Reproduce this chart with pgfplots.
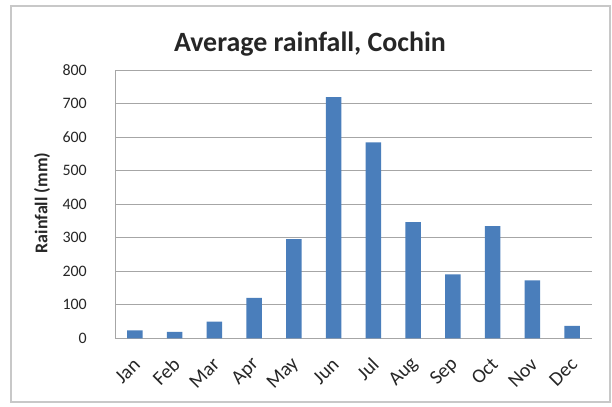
\documentclass[border=0pt]{standalone}
\usepackage{pgfplots}
\pgfplotsset{compat=1.18}
\usepackage{fontspec}
\setmainfont{Carlito}

\definecolor{barblue}{HTML}{4A7EBB}
\definecolor{gridgray}{HTML}{A6A6A6}
\definecolor{framegray}{HTML}{C8C8C8}

\begin{document}
\begin{tikzpicture}[x=1bp,y=1bp]
\useasboundingbox (0,0) rectangle (612,406);
\draw[framegray, line width=1.5bp] (11,4) rectangle (610,400);

\begin{axis}[
  at={(115bp,67.7bp)}, anchor=south west,
  scale only axis,
  width=477bp, height=268bp,
  xmin=-0.5, xmax=11.5,
  ymin=0, ymax=800,
  ytick={0,100,...,800},
  xtick=data,
  xticklabels={Jan,Feb,Mar,Apr,May,Jun,Jul,Aug,Sep,Oct,Nov,Dec},
  axis x line*=bottom,
  axis y line*=left,
  axis line style={gridgray, line width=1bp},
  major tick length=0pt,
  ymajorgrids,
  grid style={gridgray, line width=1bp},
  /pgf/number format/assume math mode=true,
  ticklabel style={text=black!85},
  yticklabel style={font=\fontsize{16}{19}\selectfont, inner sep=0pt, xshift=-28bp},
  xticklabel style={font=\fontsize{20}{23}\selectfont, xshift=2bp, yshift=-23bp, rotate=45, anchor=east, inner sep=0pt},
  ybar, bar width=15.5bp,
  clip=false,
]
\addplot[fill=barblue, draw=none] coordinates {
  (0,24) (1,19) (2,50) (3,121) (4,296) (5,720)
  (6,585) (7,347) (8,191) (9,335) (10,173) (11,37)
};
\end{axis}

\node[anchor=base, font=\bfseries\fontsize{28}{32}\selectfont, text=black!85] at (310,355) {Average rainfall, Cochin};
\node[rotate=90, font=\bfseries\fontsize{18}{21}\selectfont, text=black!85] at (42,203) {Rainfall (mm)};
\end{tikzpicture}
\end{document}
